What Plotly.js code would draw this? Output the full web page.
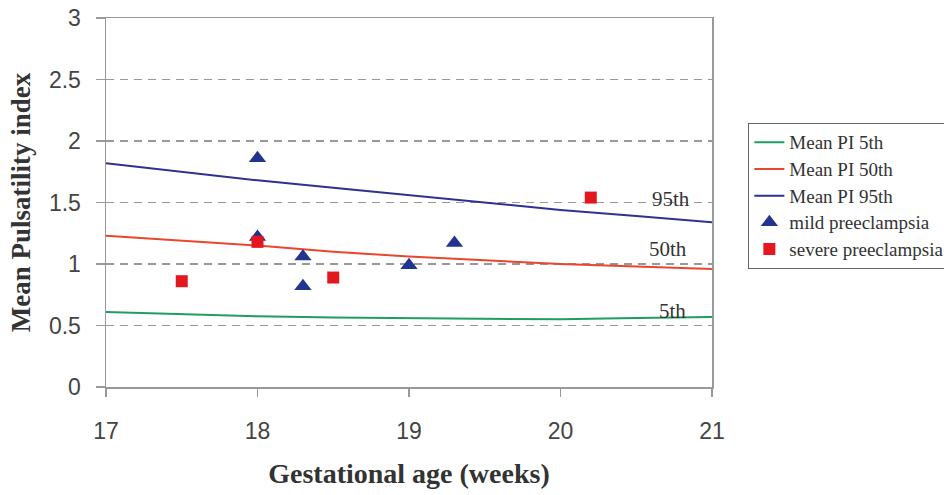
<!DOCTYPE html>
<html>
<head>
<meta charset="utf-8">
<script src="https://cdn.plot.ly/plotly-3.0.1.min.js"></script>
<style>html,body{margin:0;padding:0;background:#fff;}#chart{width:944px;height:495px;}</style>
</head>
<body>
<div id="chart"></div>
<script>
// Reference percentile curves
var weeks = [17, 17.5, 18, 18.5, 19, 19.5, 20, 20.5, 21];
var pi5th  = [0.61, 0.59, 0.575, 0.565, 0.56, 0.55, 0.55, 0.56, 0.57];
var pi50th = [1.23, 1.19, 1.15, 1.10, 1.06, 1.03, 1.00, 0.98, 0.96];
var pi95th = [1.82, 1.75, 1.68, 1.62, 1.56, 1.50, 1.44, 1.39, 1.34];

// Patients
var mildWeeks = [18, 18, 18.3, 18.3, 19, 19.3];
var mildPI    = [1.86, 1.22, 1.06, 0.82, 0.99, 1.17];
var severeWeeks = [17.5, 18, 18.5, 20.2];
var severePI    = [0.86, 1.18, 0.89, 1.54];

// Series names and curve labels
var seriesNames = ["Mean PI 5th", "Mean PI 50th", "Mean PI 95th", "mild preeclampsia", "severe preeclampsia"];
var labelText = ["95th", "50th", "5th"];
var labelX = [20.73, 20.71, 20.74];
var labelY = [1.53, 1.12, 0.62];

var serif = "Liberation Serif, Times New Roman, serif";
var sans = "Liberation Sans, Arial, sans-serif";

function legName(s) { return '<span style="font-size:19px">' + s + '</span>'; }

var traces = [
  {x: weeks, y: pi5th, name: legName(seriesNames[0]), mode: "lines", line: {color: "#1f9e5f", width: 2}},
  {x: weeks, y: pi50th, name: legName(seriesNames[1]), mode: "lines", line: {color: "#e9462d", width: 2}},
  {x: weeks, y: pi95th, name: legName(seriesNames[2]), mode: "lines", line: {color: "#2e3192", width: 2}},
  {x: mildWeeks, y: mildPI, name: legName(seriesNames[3]), mode: "markers", marker: {symbol: "triangle-up", size: 15, color: "#22348f"}},
  {x: severeWeeks, y: severePI, name: legName(seriesNames[4]), mode: "markers", marker: {symbol: "square", size: 12, color: "#e3181f"}}
];

var annotations = labelText.map(function (t, i) {
  return {x: labelX[i], y: labelY[i], xref: "x", yref: "y", text: t, showarrow: false,
          font: {family: serif, size: 21, color: "#333"}};
});

var layout = {
  width: 944, height: 495,
  margin: {l: 106, r: 232, t: 18, b: 108, autoexpand: false},
  paper_bgcolor: "#fff", plot_bgcolor: "#fff",
  showlegend: true,
  legend: {x: 1.06, y: 0.7154, xanchor: "left", yanchor: "top",
           bordercolor: "#666", borderwidth: 1, bgcolor: "#fff", traceorder: "normal",
           font: {family: serif, size: 18.2, color: "#333"}, tracegroupgap: 0},
  xaxis: {range: [17, 21], dtick: 1, tick0: 17, showgrid: false, zeroline: false,
          showline: true, linecolor: "#999", linewidth: 1.5, mirror: true,
          ticks: "outside", ticklen: 8, tickcolor: "#999", tickwidth: 1.5,
          tickfont: {family: sans, size: 23, color: "#444"}, ticklabelstandoff: 15,
          title: {text: "Gestational age (weeks)", standoff: 20,
                  font: {family: serif, size: 28, color: "#333", weight: "bold"}}},
  yaxis: {range: [0, 3], dtick: 0.5, tick0: 0, showgrid: true, gridcolor: "#999", gridwidth: 1.2,
          griddash: "8px,6px", zeroline: false,
          showline: true, linecolor: "#999", linewidth: 1.5, mirror: true,
          ticks: "outside", ticklen: 9, tickcolor: "#999", tickwidth: 1.5,
          tickfont: {family: sans, size: 23, color: "#444"}, ticklabelstandoff: 10,
          title: {text: "Mean Pulsatility index", standoff: 10,
                  font: {family: serif, size: 27, color: "#333", weight: "bold"}}},
  annotations: annotations
};

Plotly.newPlot("chart", traces, layout, {staticPlot: true, displayModeBar: false});
</script>
</body>
</html>
